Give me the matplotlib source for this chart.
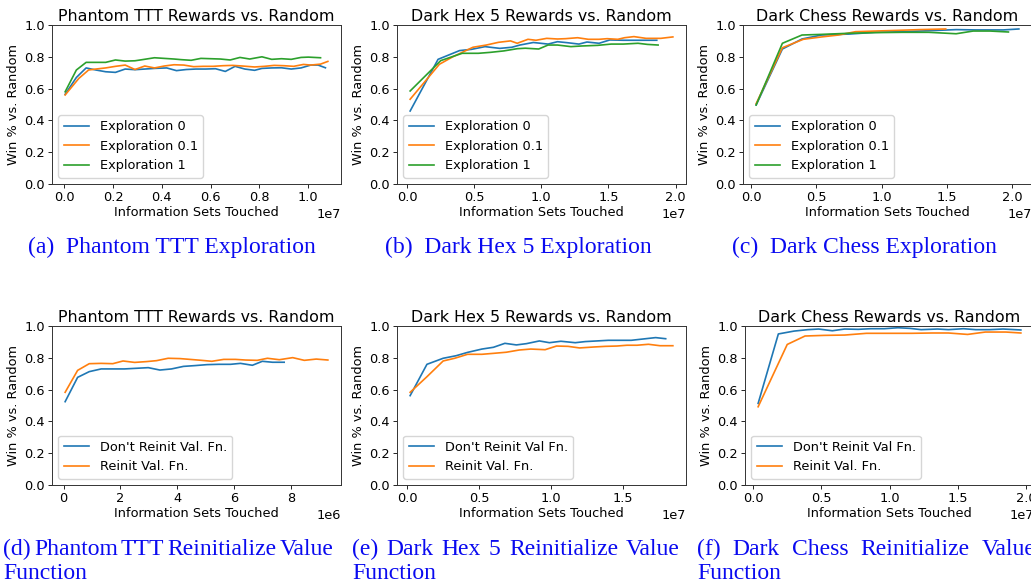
import matplotlib
matplotlib.use("Agg")
import matplotlib.pyplot as plt
import numpy as np

# x values are information sets touched, in millions
# ---- Phantom TTT, exploration ----
pttt_exp0_x = [0.04, 0.5, 0.9, 1.3, 1.7, 2.1, 2.5, 2.9, 3.3, 3.7, 4.2, 4.6, 5.0, 5.4,
               5.8, 6.2, 6.6, 7.0, 7.4, 7.8, 8.1, 8.5, 8.9, 9.3, 9.7, 10.1, 10.4, 10.7]
pttt_exp0_y = [0.564, 0.67, 0.73, 0.717, 0.706, 0.702, 0.723, 0.719, 0.723, 0.727, 0.73,
               0.713, 0.72, 0.723, 0.723, 0.725, 0.708, 0.74, 0.723, 0.715, 0.727, 0.73,
               0.731, 0.723, 0.73, 0.748, 0.748, 0.731]
pttt_exp01_x = [0.04, 0.6, 1.0, 1.3, 1.7, 2.1, 2.5, 2.9, 3.3, 3.7, 4.1, 4.5, 4.9, 5.3,
                5.7, 6.1, 6.5, 6.9, 7.3, 7.8, 8.2, 8.6, 9.0, 9.4, 9.8, 10.1, 10.5, 10.8]
pttt_exp01_y = [0.56, 0.664, 0.717, 0.723, 0.73, 0.74, 0.748, 0.72, 0.742, 0.73, 0.742,
                0.75, 0.748, 0.738, 0.74, 0.74, 0.744, 0.746, 0.742, 0.736, 0.74, 0.746,
                0.744, 0.74, 0.752, 0.748, 0.754, 0.771]
pttt_exp1_x = [0.04, 0.5, 0.9, 1.3, 1.7, 2.1, 2.5, 2.9, 3.2, 3.7, 4.1, 4.5, 4.8, 5.2,
               5.6, 6.0, 6.4, 6.8, 7.2, 7.6, 8.1, 8.5, 8.9, 9.3, 9.7, 10.0, 10.5]
pttt_exp1_y = [0.58, 0.717, 0.765, 0.765, 0.765, 0.78, 0.773, 0.775, 0.782, 0.794, 0.79,
               0.786, 0.782, 0.778, 0.79, 0.788, 0.786, 0.78, 0.796, 0.786, 0.80, 0.784,
               0.788, 0.784, 0.796, 0.798, 0.794]

# ---- Dark Hex 5, exploration ----
dhex_exp0_x = [0.22, 2.3, 3.9, 4.8, 5.8, 6.9, 7.8, 8.4, 9.4, 10.5, 11.2, 11.9, 12.8,
               13.4, 14.3, 15.1, 16.1, 17.4, 18.6]
dhex_exp0_y = [0.459, 0.784, 0.839, 0.847, 0.864, 0.853, 0.86, 0.874, 0.89, 0.88, 0.895,
               0.889, 0.88, 0.893, 0.885, 0.906, 0.904, 0.904, 0.904]
dhex_exp01_x = [0.22, 2.4, 3.4, 4.9, 5.9, 6.8, 7.7, 8.2, 9.0, 9.6, 10.4, 11.2, 11.8,
                12.7, 13.5, 14.3, 14.9, 15.7, 16.2, 16.9, 17.8, 18.9, 19.8]
dhex_exp01_y = [0.533, 0.753, 0.80, 0.86, 0.874, 0.891, 0.90, 0.885, 0.91, 0.904, 0.916,
                0.912, 0.914, 0.92, 0.91, 0.91, 0.914, 0.91, 0.92, 0.927, 0.916, 0.916,
                0.925]
dhex_exp1_x = [0.22, 2.5, 4.1, 5.3, 6.2, 7.2, 8.2, 8.8, 9.8, 10.5, 11.2, 12.2, 13.0,
               14.2, 15.2, 16.1, 17.2, 17.9, 18.7]
dhex_exp1_y = [0.585, 0.776, 0.822, 0.822, 0.828, 0.837, 0.851, 0.854, 0.849, 0.874,
               0.874, 0.864, 0.868, 0.872, 0.88, 0.88, 0.885, 0.878, 0.874]

# ---- Dark Chess, exploration ----
dchess_exp0_x = [0.39, 2.4, 3.9, 5.4, 7.5, 9.5, 11.6, 13.6, 15.7, 17.2, 19.3, 20.5]
dchess_exp0_y = [0.497, 0.849, 0.912, 0.937, 0.943, 0.954, 0.958, 0.964, 0.971, 0.969,
                 0.969, 0.975]
dchess_exp01_x = [0.39, 2.4, 4.0, 5.4, 6.7, 8.0, 9.5, 11.1, 12.9, 14.9]
dchess_exp01_y = [0.505, 0.857, 0.91, 0.925, 0.937, 0.958, 0.962, 0.966, 0.971, 0.975]
dchess_exp1_x = [0.39, 2.4, 3.9, 5.4, 7.5, 9.5, 11.6, 13.6, 15.7, 17.0, 18.3, 19.7]
dchess_exp1_y = [0.497, 0.885, 0.937, 0.941, 0.948, 0.952, 0.954, 0.954, 0.945, 0.962,
                 0.962, 0.956]

# ---- Phantom TTT, value function reinit ----
pttt_keep_x = [0.05, 0.49, 0.9, 1.32, 1.73, 2.14, 2.56, 2.98, 3.39, 3.8, 4.22, 4.63,
               5.05, 5.46, 5.88, 6.23, 6.65, 7.0, 7.36, 7.77]
pttt_keep_y = [0.524, 0.677, 0.713, 0.73, 0.73, 0.73, 0.734, 0.738, 0.723, 0.73, 0.746,
               0.751, 0.757, 0.759, 0.759, 0.765, 0.753, 0.778, 0.772, 0.772]
pttt_reinit_x = [0.05, 0.49, 0.9, 1.32, 1.73, 2.09, 2.5, 2.91, 3.27, 3.68, 4.1, 4.45,
                 4.86, 5.22, 5.64, 6.05, 6.41, 6.82, 7.18, 7.6, 8.07, 8.48, 8.9, 9.31]
pttt_reinit_y = [0.583, 0.721, 0.763, 0.765, 0.763, 0.78, 0.771, 0.776, 0.782, 0.797,
                 0.795, 0.79, 0.784, 0.778, 0.79, 0.79, 0.786, 0.784, 0.797, 0.788,
                 0.801, 0.784, 0.792, 0.786]

# ---- Dark Hex 5, value function reinit ----
dhex_keep_x = [0.2, 1.37, 2.5, 3.4, 4.2, 5.2, 6.0, 6.8, 7.6, 8.3, 9.2, 9.9, 10.7, 11.7,
               12.4, 13.2, 14.0, 14.8, 15.6, 16.4, 17.3, 18.0]
dhex_keep_y = [0.562, 0.759, 0.797, 0.813, 0.834, 0.855, 0.866, 0.891, 0.881, 0.889,
               0.906, 0.895, 0.904, 0.895, 0.902, 0.906, 0.91, 0.91, 0.91, 0.918, 0.927,
               0.92]
dhex_reinit_x = [0.2, 1.37, 2.5, 3.3, 4.2, 5.2, 6.0, 6.9, 7.8, 8.6, 9.6, 10.4, 11.2,
                 12.0, 13.0, 13.8, 14.6, 15.3, 16.0, 16.8, 17.6, 18.5]
dhex_reinit_y = [0.583, 0.681, 0.78, 0.797, 0.822, 0.822, 0.828, 0.835, 0.849, 0.855,
                 0.851, 0.874, 0.872, 0.862, 0.868, 0.872, 0.874, 0.879, 0.879, 0.885,
                 0.876, 0.876]

# ---- Dark Chess, value function reinit ----
dchess_keep_x = [0.37, 1.85, 3.0, 4.0, 4.8, 5.8, 6.7, 7.7, 8.6, 9.6, 10.6, 11.5, 12.3,
                 13.5, 14.3, 15.4, 16.3, 17.3, 18.3, 19.6]
dchess_keep_y = [0.513, 0.95, 0.968, 0.977, 0.981, 0.97, 0.981, 0.979, 0.983, 0.983,
                 0.989, 0.985, 0.977, 0.981, 0.977, 0.983, 0.977, 0.977, 0.981, 0.975]
dchess_reinit_x = [0.37, 2.5, 3.8, 5.2, 6.7, 8.3, 9.9, 11.6, 13.1, 14.3, 15.7, 17.0,
                   18.5, 19.6]
dchess_reinit_y = [0.492, 0.884, 0.937, 0.941, 0.943, 0.954, 0.954, 0.954, 0.956, 0.956,
                   0.947, 0.962, 0.962, 0.956]

EXPLORE_LABELS = ["Exploration 0", "Exploration 0.1", "Exploration 1"]
COLORS = ["#1f77b4", "#ff7f0e", "#2ca02c"]

PANELS = [
    # (title, series, legend labels)
    ("Phantom TTT Rewards vs. Random",
     [(pttt_exp0_x, pttt_exp0_y), (pttt_exp01_x, pttt_exp01_y), (pttt_exp1_x, pttt_exp1_y)],
     EXPLORE_LABELS),
    ("Dark Hex 5 Rewards vs. Random",
     [(dhex_exp0_x, dhex_exp0_y), (dhex_exp01_x, dhex_exp01_y), (dhex_exp1_x, dhex_exp1_y)],
     EXPLORE_LABELS),
    ("Dark Chess Rewards vs. Random",
     [(dchess_exp0_x, dchess_exp0_y), (dchess_exp01_x, dchess_exp01_y),
      (dchess_exp1_x, dchess_exp1_y)],
     EXPLORE_LABELS),
    ("Phantom TTT Rewards vs. Random",
     [(pttt_keep_x, pttt_keep_y), (pttt_reinit_x, pttt_reinit_y)],
     ["Don't Reinit Val. Fn.", "Reinit Val. Fn."]),
    ("Dark Hex 5 Rewards vs. Random",
     [(dhex_keep_x, dhex_keep_y), (dhex_reinit_x, dhex_reinit_y)],
     ["Don't Reinit Val Fn.", "Reinit Val. Fn."]),
    ("Dark Chess Rewards vs. Random",
     [(dchess_keep_x, dchess_keep_y), (dchess_reinit_x, dchess_reinit_y)],
     ["Don't Reinit Val Fn.", "Reinit Val. Fn."]),
]

CAPTIONS_TOP = ["(a)  Phantom TTT Exploration", "(b)  Dark Hex 5 Exploration",
                "(c)  Dark Chess Exploration"]
CAPTIONS_BOTTOM = ["(d)  Phantom TTT Reinitialize Value",
                   "(e)  Dark Hex 5 Reinitialize Value",
                   "(f)  Dark Chess Reinitialize Value"]
CAPTION_WRAP = "Function"

W, H = 1031, 582
# axes boxes in pixels: left, top (the last column runs off the right edge)
AX_BOXES = [(52, 25), (397, 25), (743, 25), (52, 326), (397, 326), (745, 326)]
AX_W, AX_H = 289, 159

SMALL = 9.3
CAP_FONT = dict(family="Liberation Serif", size=17, color="#0a0af0")

plt.rcParams["font.family"] = "DejaVu Sans"
fig = plt.figure(figsize=(W / 100, H / 100), dpi=100)


def px_axes(left, top):
    return fig.add_axes([left / W, 1 - (top + AX_H) / H, AX_W / W, AX_H / H])


for (left, top), (title, series, labels) in zip(AX_BOXES, PANELS):
    ax = px_axes(left, top)
    for (xs, ys), lab, col in zip(series, labels, COLORS):
        ax.plot(np.array(xs) * 1e6, ys, color=col, linewidth=1.2, label=lab)
    ax.set_ylim(0, 1.0)
    ax.set_yticks([0.0, 0.2, 0.4, 0.6, 0.8, 1.0])
    ax.set_title(title, fontsize=11.4, pad=3)
    ax.set_xlabel("Information Sets Touched", fontsize=SMALL, labelpad=1.5)
    ax.set_ylabel("Win % vs. Random", fontsize=SMALL, labelpad=3)
    ax.tick_params(labelsize=SMALL, length=3, width=0.6, pad=2)
    ax.xaxis.get_offset_text().set_fontsize(SMALL)
    for sp in ax.spines.values():
        sp.set_linewidth(0.7)
        sp.set_color("#333333")
    ax.legend(loc="lower left", fontsize=SMALL, handlelength=2.0, borderaxespad=0.5)

# sub-figure captions, top row centred under each column
for cx, cap in zip([172, 518, 864], CAPTIONS_TOP):
    fig.text(cx / W, 1 - 253 / H, cap, ha="center", va="baseline", **CAP_FONT)


def justified(words, x0, x1, baseline):
    """Spread words across [x0, x1] pixels like a justified text line."""
    renderer = fig.canvas.get_renderer()
    texts = [fig.text(0, 1 - baseline / H, w, ha="left", va="baseline", **CAP_FONT)
             for w in words]
    widths = [t.get_window_extent(renderer).width for t in texts]
    gap = (x1 - x0 - sum(widths)) / (len(words) - 1)
    x = x0
    for t, w in zip(texts, widths):
        t.set_x(x / W)
        x += w + gap


for (x0, x1), cap in zip([(3, 334), (352, 680), (697, 1036)], CAPTIONS_BOTTOM):
    justified(cap.split(), x0, x1, 555)
    fig.text(x0 / W, 1 - 579 / H, CAPTION_WRAP, ha="left", va="baseline", **CAP_FONT)

fig.savefig("out.png", dpi=100)
